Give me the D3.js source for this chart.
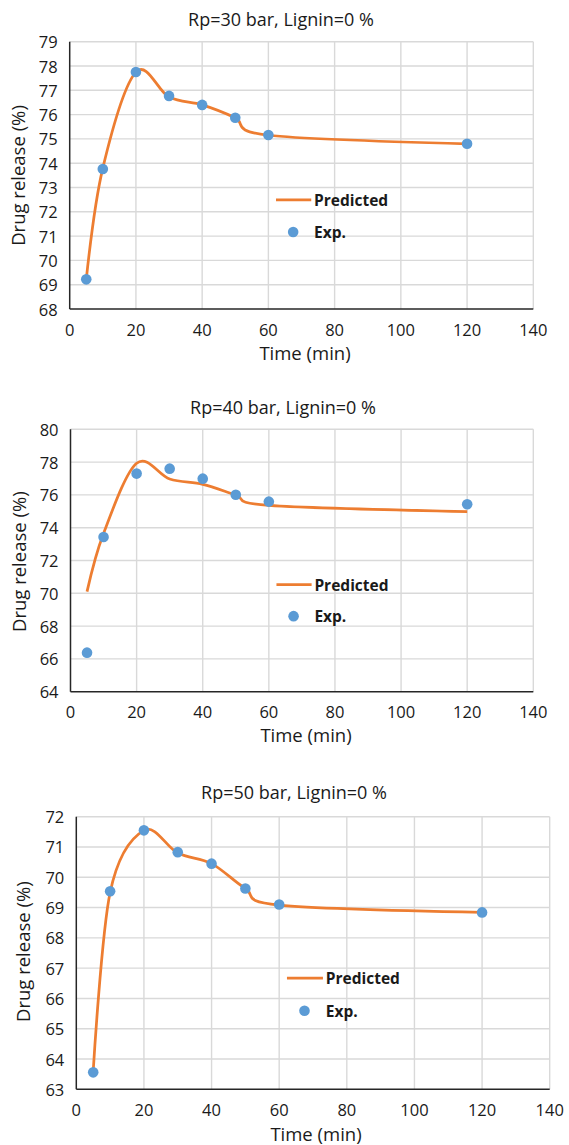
<!DOCTYPE html>
<html>
<head>
<meta charset="utf-8">
<style>
  body { margin: 0; background: #fff; }
  svg { display: block; font-family: "Open Sans", Lato, sans-serif; }
</style>
</head>
<body>
<script src="https://d3js.org/d3.v7.min.js"></script>
<script>
// sampling times (min)
var times = [5, 10, 20, 30, 40, 50, 60, 120];

// Rp=30 bar
var exp30  = [69.22, 73.76, 77.75, 76.77, 76.40, 75.87, 75.16, 74.80];
var pred30 = [69.22, 73.80, 77.75, 76.72, 76.40, 75.87, 75.15, 74.80];
// Rp=40 bar
var exp40  = [66.38, 73.43, 77.30, 77.60, 76.99, 76.01, 75.59, 75.43];
var pred40 = [70.10, 73.65, 77.93, 76.97, 76.64, 76.00, 75.36, 74.98];
// Rp=50 bar
var exp50  = [63.56, 69.54, 71.55, 70.83, 70.45, 69.63, 69.10, 68.84];
var pred50 = [63.60, 69.50, 71.55, 70.80, 70.45, 69.63, 69.08, 68.84];

var titles = ["Rp=30 bar, Lignin=0 %", "Rp=40 bar, Lignin=0 %", "Rp=50 bar, Lignin=0 %"];
var xTicks = [0, 20, 40, 60, 80, 100, 120, 140];
var yTicks30 = [68, 69, 70, 71, 72, 73, 74, 75, 76, 77, 78, 79];
var yTicks40 = [64, 66, 68, 70, 72, 74, 76, 78, 80];
var yTicks50 = [63, 64, 65, 66, 67, 68, 69, 70, 71, 72];
var seriesNames = ["Predicted", "Exp."];

var ORANGE = "#ED7D31", BLUE = "#5B9BD5";

var svg = d3.select("body").append("svg").attr("width", 569).attr("height", 1145);

// layout of each panel
var panels = [
  {exp: exp30, pred: pred30, yt: yTicks30, title: titles[0],
   l: 69.7, r: 533.3, t: 41.7, b: 309, titleX: 281, titleY: 18.5, tickY: 329, xtX: 305, xtY: 352, ytX: 17.5, ytY: 175.5},
  {exp: exp40, pred: pred40, yt: yTicks40, title: titles[1],
   l: 70.5, r: 533.3, t: 429.3, b: 691.7, titleX: 283, titleY: 407.3, tickY: 711.7, xtX: 306, xtY: 734.3, ytX: 18.2, ytY: 561.7},
  {exp: exp50, pred: pred50, yt: yTicks50, title: titles[2],
   l: 76.3, r: 549.7, t: 816.7, b: 1089.3, titleX: 294, titleY: 791.7, tickY: 1109.3, xtX: 316, xtY: 1133.3, ytX: 22.6, ytY: 951.7}
];

panels.forEach(function(p) {
  var g = svg.append("g");
  var x = d3.scaleLinear().domain([0, 140]).range([p.l, p.r]);
  var y = d3.scaleLinear().domain([p.yt[0], p.yt[p.yt.length - 1]]).range([p.b, p.t]);

  // grid
  g.selectAll(".hg").data(p.yt.slice(1)).enter().append("line")
    .attr("x1", p.l).attr("x2", p.r)
    .attr("y1", function(d) { return y(d); }).attr("y2", function(d) { return y(d); })
    .attr("stroke", "#d9d9d9").attr("stroke-width", 1.4);
  g.selectAll(".vg").data(xTicks.slice(1)).enter().append("line")
    .attr("y1", p.t).attr("y2", p.b)
    .attr("x1", function(d) { return x(d); }).attr("x2", function(d) { return x(d); })
    .attr("stroke", "#d9d9d9").attr("stroke-width", 1.4);

  // axes lines
  g.append("line").attr("x1", p.l).attr("x2", p.l).attr("y1", p.t).attr("y2", p.b)
    .attr("stroke", "#262626").attr("stroke-width", 1.5);
  g.append("line").attr("x1", p.l).attr("x2", p.r).attr("y1", p.b).attr("y2", p.b)
    .attr("stroke", "#262626").attr("stroke-width", 1.5);

  // tick labels
  g.selectAll(".yl").data(p.yt).enter().append("text")
    .attr("x", p.l - 12).attr("y", function(d) { return y(d); })
    .attr("text-anchor", "end").attr("dominant-baseline", "central")
    .attr("font-size", 16.5).attr("fill", "#1a1a1a").text(function(d) { return d; });
  g.selectAll(".xl").data(xTicks).enter().append("text")
    .attr("x", function(d) { return x(d); }).attr("y", p.tickY)
    .attr("text-anchor", "middle").attr("dominant-baseline", "central")
    .attr("font-size", 16.5).attr("fill", "#1a1a1a").text(function(d) { return d; });

  // titles
  g.append("text").attr("x", p.titleX).attr("y", p.titleY)
    .attr("text-anchor", "middle").attr("dominant-baseline", "central")
    .attr("font-size", 18).attr("fill", "#1a1a1a").text(p.title);
  g.append("text").attr("x", p.xtX).attr("y", p.xtY)
    .attr("text-anchor", "middle").attr("dominant-baseline", "central")
    .attr("font-size", 18.5).attr("fill", "#1a1a1a").text("Time (min)");
  g.append("text").attr("transform", "translate(" + p.ytX + "," + p.ytY + ") rotate(-90)")
    .attr("text-anchor", "middle").attr("dominant-baseline", "central")
    .attr("font-size", 18.5).attr("fill", "#1a1a1a").text("Drug release (%)");

  // predicted smooth line
  var line = d3.line()
    .x(function(d, i) { return x(times[i]); })
    .y(function(d) { return y(d); })
    .curve(d3.curveCardinal.tension(0));
  g.append("path").datum(p.pred).attr("d", line)
    .attr("fill", "none").attr("stroke", ORANGE).attr("stroke-width", 2.75);

  // experimental points
  g.selectAll(".pt").data(p.exp).enter().append("circle")
    .attr("cx", function(d, i) { return x(times[i]); })
    .attr("cy", function(d) { return y(d); })
    .attr("r", 5.3).attr("fill", BLUE);

  // legend
  var w = p.r - p.l, h = p.b - p.t;
  var ly1 = p.t + 0.592 * h, ly2 = p.t + 0.712 * h;
  g.append("line").attr("x1", p.l + 0.445 * w).attr("x2", p.l + 0.521 * w)
    .attr("y1", ly1).attr("y2", ly1).attr("stroke", ORANGE).attr("stroke-width", 2.75);
  g.append("circle").attr("cx", p.l + 0.482 * w).attr("cy", ly2).attr("r", 5.3).attr("fill", BLUE);
  g.selectAll(".lg").data(seriesNames).enter().append("text")
    .attr("x", p.l + 0.527 * w)
    .attr("y", function(d, i) { return i === 0 ? ly1 : ly2; })
    .attr("dominant-baseline", "central")
    .attr("font-size", 15.5).attr("font-weight", "bold").attr("fill", "#1a1a1a")
    .text(function(d) { return d; });
});
</script>
</body>
</html>
